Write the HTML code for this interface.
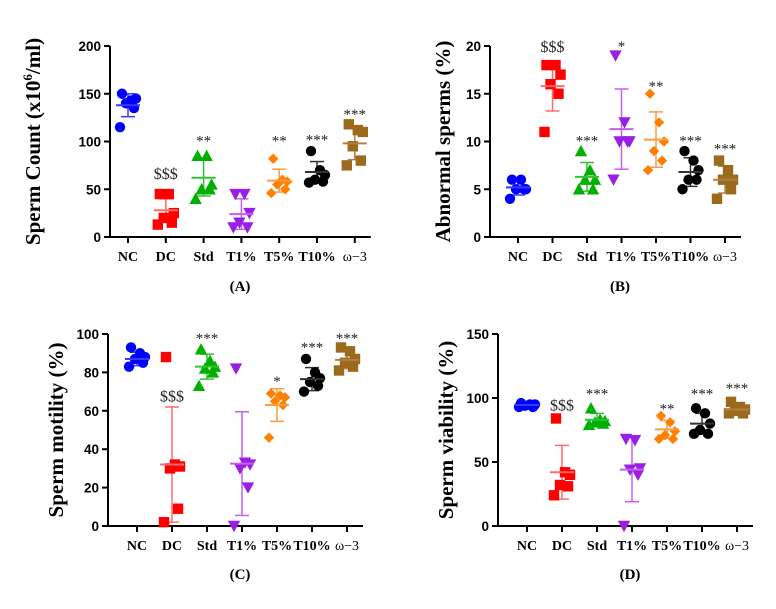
<!DOCTYPE html>
<html><head><meta charset="utf-8"><style>
body{margin:0;background:#fff;}
svg text{font-family:"Liberation Serif",serif;}
.tk{font-family:"Liberation Sans",sans-serif;font-weight:bold;font-size:13.5px;}
</style></head><body>
<svg id="c" width="776" height="604" viewBox="0 0 776 604" xmlns="http://www.w3.org/2000/svg"></svg>
<script>
const categories=["NC","DC","Std","T1%","T5%","T10%","ω−3"];
const aValues=[[150,143,145,140,135,115],[45,45,25,20,15,13],[85,85,55,50,50,40],[45,45,25,15,10,10],[82,60,58,55,50,46],[90,70,65,60,58,57],[118,112,110,95,80,75]];
const aMean=[138,28,62,24,59,68,98];
const aSd=[12,12,19,16,12,11,17];
const aSig=["","$$$","**","","**","***","***"];
const aSigAt=[0,67,104,0,104,105,132];
const aTicks=[0,50,100,150,200];
const bValues=[[6,6,5,5,5,4],[18,18,17,16,15,11],[9,7,6,6,5,5],[19,12,10,10,10,6],[15,12,10,9,8,7],[9,8,7,6,6,5],[8,7,6,6,5,4]];
const bMean=[5.2,15.8,6.3,11.3,10.2,6.8,6.0];
const bSd=[0.8,2.6,1.5,4.2,2.9,1.5,1.4];
const bSig=["","$$$","***","*","**","***","***"];
const bSigAt=[0,20,10.4,20.3,16.1,10.4,9.6];
const bTicks=[0,5,10,15,20];
const cValues=[[93,90,88,87,85,83],[88,32,31,30,9,2],[92,86,83,82,80,73],[82,33,32,30,20,0],[69,68,67,65,63,46],[87,80,77,75,73,70],[93,91,87,85,83,81]];
const cMean=[87,32,83,32.5,63,76.5,86.5];
const cSd=[3.5,30,6.5,27,8.5,6,4.5];
const cSig=["","$$$","***","","*","***","***"];
const cSigAt=[0,68,99.5,0,77,94.8,99.5];
const cTicks=[0,20,40,60,80,100];
const dValues=[[96,95,95,94,93,93],[84,42,40,32,31,24],[92,83,82,81,80,79],[68,67,45,44,40,0],[86,81,74,71,68,68],[92,88,80,75,72,72],[97,93,91,90,88,88]];
const dMean=[94.5,42,83,44,75.5,80,91];
const dSd=[1,21,5,25,7,8,4];
const dSig=["","$$$","***","","**","***","***"];
const dSigAt=[0,95,106,0,94,106,110];
const dTicks=[0,50,100,150];

const colors=["#0000ff","#ff0000","#00b000","#9b1ee6","#ff8000","#000000","#9b6a1c"];
const light=["#3a3aff","#ff6a6a","#33c033","#c060f0","#ff9a40","#333333","#b08040"];
const shapes=["circle","square","up","down","diamond","circle","square"];
const jit=[-6,3,8,-2,6,-8];
const NS="http://www.w3.org/2000/svg";
const svg=document.getElementById("c");
function mk(t,a,p){const e=document.createElementNS(NS,t);for(const k in a)e.setAttribute(k,a[k]);(p||svg).appendChild(e);return e;}

function panel(cfg){
  const g=mk("g",{});
  
  
  const max=cfg.ticks[cfg.ticks.length-1];
  const Y=v=>cfg.y0-(v/max)*(cfg.y0-cfg.y1);
  const X=i=>cfg.x1+i*cfg.dx;
  const xEnd=X(6)+16;
  const ax=mk("path",{d:`M${cfg.ax},${cfg.y1} V${cfg.y0} H${xEnd}`,stroke:"#000","stroke-width":2,fill:"none"},g);
  
  
  cfg.ticks.forEach(t=>{
    mk("line",{x1:cfg.ax-6,x2:cfg.ax,y1:Y(t),y2:Y(t),stroke:"#000","stroke-width":2},g);
    const tx=mk("text",{x:cfg.ax-9,y:Y(t)+5,"text-anchor":"end",class:"tk"},g);
    tx.textContent=t;
    
    
  });
  categories.forEach((c,i)=>{
    mk("line",{x1:X(i),x2:X(i),y1:cfg.y0,y2:cfg.y0+6,stroke:"#000","stroke-width":2},g);
    const tx=mk("text",{x:X(i),y:cfg.y0+24,"text-anchor":"middle","font-size":"14px","font-weight":i==6?"normal":"bold"},g);
    tx.textContent=c;
    
    
    const gg=mk("g",{},g);
    
    
    const m=cfg.mean[i],s=cfg.sd[i],cx=X(i);
    const lo=Math.max(0,m-s),hi=m+s;
    mk("line",{x1:cx,x2:cx,y1:Y(lo),y2:Y(hi),stroke:light[i],"stroke-width":1.5},gg);
    mk("line",{x1:cx-7,x2:cx+7,y1:Y(lo),y2:Y(lo),stroke:light[i],"stroke-width":1.5},gg);
    mk("line",{x1:cx-7,x2:cx+7,y1:Y(hi),y2:Y(hi),stroke:light[i],"stroke-width":1.5},gg);
    cfg.vals[i].forEach((v,j)=>{
      const px=cx+jit[j],py=Y(v),col=colors[i],r=5.2;let e;
      if(shapes[i]=="circle")e=mk("circle",{cx:px,cy:py,r:r,fill:col},gg);
      else if(shapes[i]=="square")e=mk("rect",{x:px-r,y:py-r,width:2*r,height:2*r,fill:col},gg);
      else if(shapes[i]=="up")e=mk("path",{d:`M${px},${py-r-1} L${px+r+1},${py+r} L${px-r-1},${py+r}Z`,fill:col},gg);
      else if(shapes[i]=="down")e=mk("path",{d:`M${px},${py+r+1} L${px+r+1},${py-r} L${px-r-1},${py-r}Z`,fill:col},gg);
      else e=mk("path",{d:`M${px},${py-r} L${px+r},${py} L${px},${py+r} L${px-r},${py}Z`,fill:col},gg);
      
      
    });
    mk("line",{x1:cx-12,x2:cx+12,y1:Y(m),y2:Y(m),stroke:light[i],"stroke-width":2},gg);
    if(cfg.sig[i]){
      const st=mk("text",{x:cx,y:Y(cfg.sigAt[i])+(cfg.sig[i][0]=="$"?6:8),"text-anchor":"middle","font-size":cfg.sig[i][0]=="$"?"16px":"15px",fill:"#222"},gg);
      st.textContent=cfg.sig[i];
      
      
    }
  });
  const yt=mk("text",{transform:`translate(${cfg.tx},${(cfg.y0+cfg.y1)/2}) rotate(-90)`,"text-anchor":"middle","font-size":"21px","font-weight":"bold"},g);
  yt.innerHTML=cfg.title;
  
  
  const pl=mk("text",{x:cfg.lx,y:cfg.ly,"text-anchor":"middle","font-size":"15px","font-weight":"bold"},g);
  pl.textContent=cfg.label;
  
  
}
panel({name:"panel-a",ax:110,x1:128,dx:37.8,y0:237,y1:46,ticks:aTicks,vals:aValues,mean:aMean,sd:aSd,sig:aSig,sigAt:aSigAt,tx:40,title:'Sperm Count (x10<tspan dy="-8" font-size="13px">6</tspan><tspan dy="8">/ml)</tspan>',label:"(A)",lx:240,ly:291});
panel({name:"panel-b",ax:490,x1:518,dx:34.5,y0:237,y1:46,ticks:bTicks,vals:bValues,mean:bMean,sd:bSd,sig:bSig,sigAt:bSigAt,tx:450,title:"Abnormal sperms (%)",label:"(B)",lx:620,ly:291});
panel({name:"panel-c",ax:108,x1:137,dx:35,y0:526,y1:334,ticks:cTicks,vals:cValues,mean:cMean,sd:cSd,sig:cSig,sigAt:cSigAt,tx:63,title:"Sperm motility (%)",label:"(C)",lx:240,ly:579});
panel({name:"panel-d",ax:498,x1:527,dx:35,y0:526,y1:334,ticks:dTicks,vals:dValues,mean:dMean,sd:dSd,sig:dSig,sigAt:dSigAt,tx:453,title:"Sperm viability (%)",label:"(D)",lx:630,ly:579});
</script>
</body></html>
